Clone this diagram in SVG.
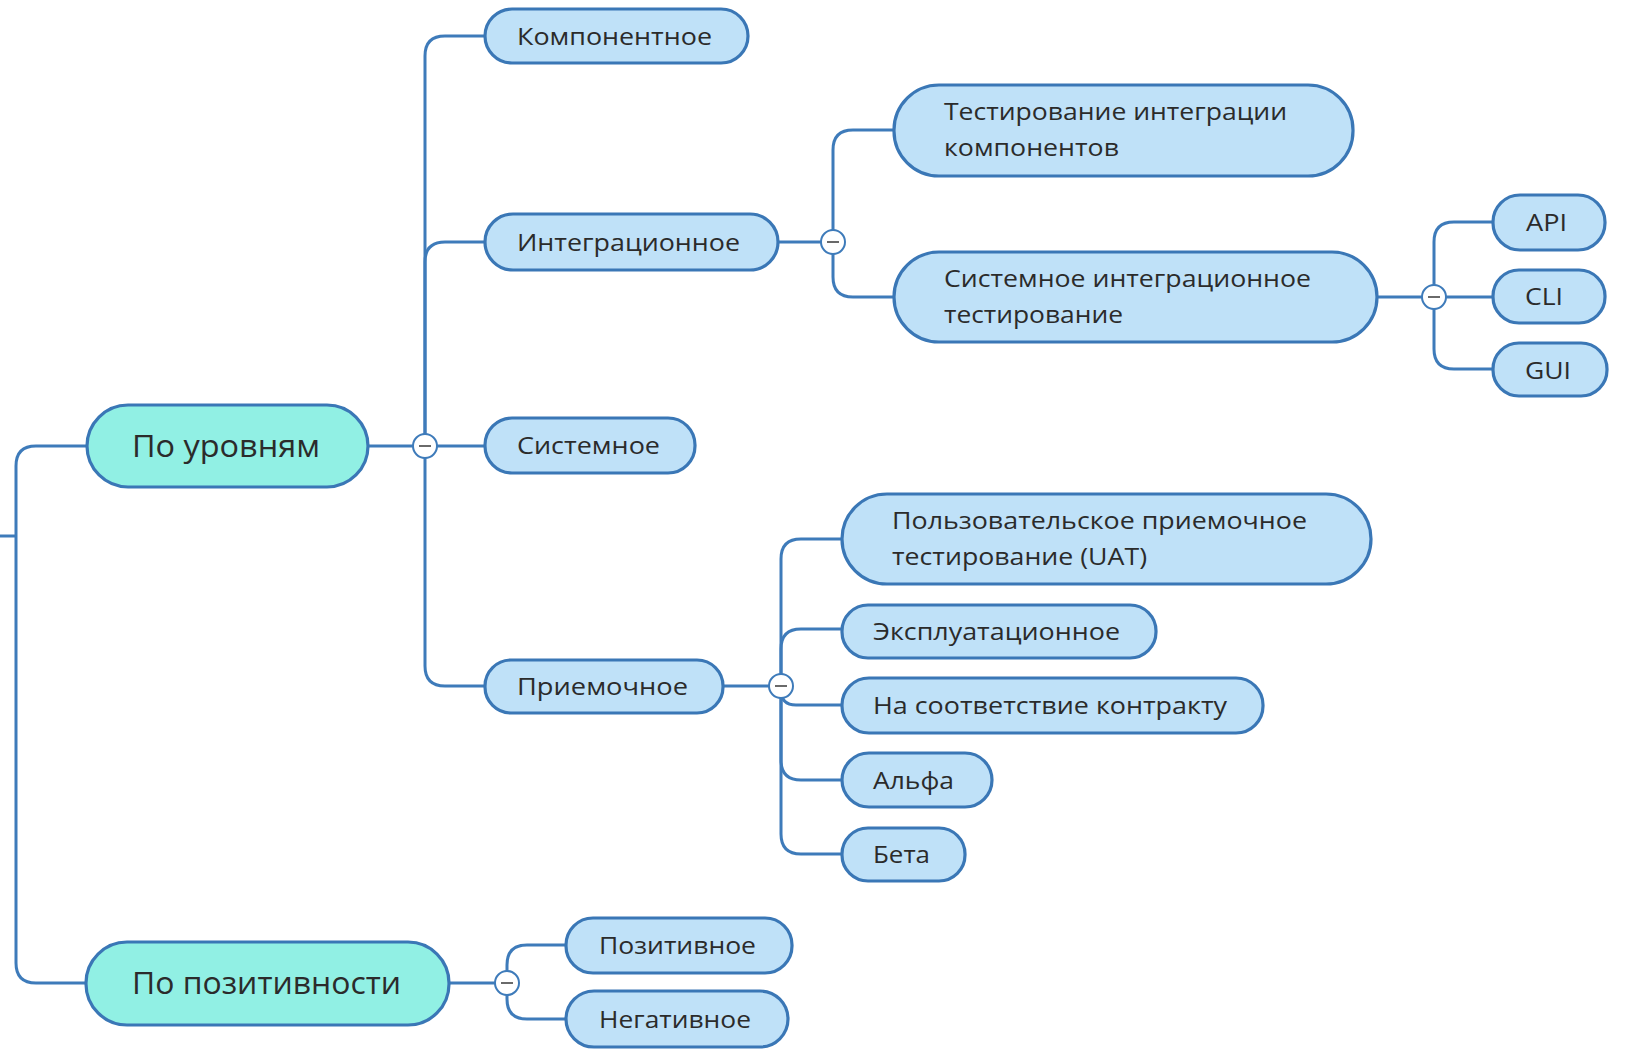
<svg xmlns="http://www.w3.org/2000/svg" width="1626" height="1052" viewBox="0 0 1626 1052">
<style>
.c{fill:none;stroke:#3e7bba;stroke-width:3}
.n rect{fill:#bfe1f8;stroke:#3a77b6;stroke-width:3.2}
.m rect{fill:#91f0e4;stroke:#3a77b6;stroke-width:3.2}
text{font-family:"Open Sans","Noto Sans",sans-serif;fill:#2b2b2b}
.n text{font-size:24px}
.m text{font-size:31px}
.k circle{fill:#fff;stroke:#3e7bba;stroke-width:2}
.k line{stroke:#444;stroke-width:1.6}
</style>
<rect width="1626" height="1052" fill="#fff"/>
<g id="connectors">
<path class="c" d="M0,536 H16"/>
<path class="c" d="M87,446 H36 Q16,446 16,466 V963 Q16,983 36,983 H86"/>
<path class="c" d="M368,446 H485"/>
<path class="c" d="M425,446 V56 Q425,36 445,36 H485"/>
<path class="c" d="M425,446 V262 Q425,242 445,242 H485"/>
<path class="c" d="M425,446 V666 Q425,686 445,686 H485"/>
<path class="c" d="M778,242 H821"/>
<path class="c" d="M833,242 V150 Q833,130 853,130 H894"/>
<path class="c" d="M833,242 V277 Q833,297 853,297 H894"/>
<path class="c" d="M1377,297 H1493"/>
<path class="c" d="M1434,297 V242 Q1434,222 1454,222 H1493"/>
<path class="c" d="M1434,297 V349 Q1434,369 1454,369 H1493"/>
<path class="c" d="M723,686 H769"/>
<path class="c" d="M781,686 V559 Q781,539 801,539 H842"/>
<path class="c" d="M781,686 V649 Q781,629 801,629 H842"/>
<path class="c" d="M781,686 V690 Q781,705 796,705 H842"/>
<path class="c" d="M781,686 V760 Q781,780 801,780 H842"/>
<path class="c" d="M781,686 V834 Q781,854 801,854 H842"/>
<path class="c" d="M449,983 H495"/>
<path class="c" d="M507,983 V965 Q507,945 527,945 H566"/>
<path class="c" d="M507,983 V999 Q507,1019 527,1019 H566"/>
</g>
<g id="toggles" class="k">
<circle cx="425" cy="446" r="12"/><line x1="419" y1="446" x2="431" y2="446"/>
<circle cx="833" cy="242" r="12"/><line x1="827" y1="242" x2="839" y2="242"/>
<circle cx="1434" cy="297" r="12"/><line x1="1428" y1="297" x2="1440" y2="297"/>
<circle cx="781" cy="686" r="12"/><line x1="775" y1="686" x2="787" y2="686"/>
<circle cx="507" cy="983" r="12"/><line x1="501" y1="983" x2="513" y2="983"/>
</g>
<g id="n-urovni" class="m"><rect x="87" y="405" width="281" height="82" rx="41"/><text x="132" y="457" textLength="188" lengthAdjust="spacingAndGlyphs">По уровням</text></g>
<g id="n-pozitiv" class="m"><rect x="86" y="942" width="363" height="83" rx="41"/><text x="132" y="994" textLength="269" lengthAdjust="spacingAndGlyphs">По позитивности</text></g>
<g id="n-komp" class="n"><rect x="485" y="9" width="263" height="54" rx="27"/><text x="517" y="45" textLength="195" lengthAdjust="spacingAndGlyphs">Компонентное</text></g>
<g id="n-integr" class="n"><rect x="485" y="214" width="293" height="56" rx="28"/><text x="517" y="251" textLength="223" lengthAdjust="spacingAndGlyphs">Интеграционное</text></g>
<g id="n-sist" class="n"><rect x="485" y="418" width="210" height="55" rx="27"/><text x="517" y="454" textLength="143" lengthAdjust="spacingAndGlyphs">Системное</text></g>
<g id="n-priem" class="n"><rect x="485" y="660" width="238" height="53" rx="26"/><text x="517" y="695" textLength="171" lengthAdjust="spacingAndGlyphs">Приемочное</text></g>
<g id="n-tik" class="n"><rect x="894" y="85" width="459" height="91" rx="45"/><text x="944" y="120" textLength="343" lengthAdjust="spacingAndGlyphs">Тестирование интеграции</text><text x="944" y="156" textLength="175" lengthAdjust="spacingAndGlyphs">компонентов</text></g>
<g id="n-sit" class="n"><rect x="894" y="252" width="483" height="90" rx="45"/><text x="944" y="287" textLength="367" lengthAdjust="spacingAndGlyphs">Системное интеграционное</text><text x="944" y="323" textLength="179" lengthAdjust="spacingAndGlyphs">тестирование</text></g>
<g id="n-api" class="n"><rect x="1493" y="195" width="112" height="55" rx="27"/><text x="1526" y="231" textLength="41" lengthAdjust="spacingAndGlyphs">API</text></g>
<g id="n-cli" class="n"><rect x="1493" y="270" width="112" height="53" rx="26"/><text x="1525" y="305" textLength="38" lengthAdjust="spacingAndGlyphs">CLI</text></g>
<g id="n-gui" class="n"><rect x="1493" y="343" width="114" height="53" rx="26"/><text x="1525" y="379" textLength="46" lengthAdjust="spacingAndGlyphs">GUI</text></g>
<g id="n-uat" class="n"><rect x="842" y="494" width="529" height="90" rx="45"/><text x="892" y="529" textLength="415" lengthAdjust="spacingAndGlyphs">Пользовательское приемочное</text><text x="892" y="565" textLength="255" lengthAdjust="spacingAndGlyphs">тестирование (UAT)</text></g>
<g id="n-expl" class="n"><rect x="842" y="605" width="314" height="53" rx="26"/><text x="873" y="640" textLength="247" lengthAdjust="spacingAndGlyphs">Эксплуатационное</text></g>
<g id="n-kontr" class="n"><rect x="842" y="678" width="421" height="55" rx="27"/><text x="873" y="714" textLength="354" lengthAdjust="spacingAndGlyphs">На соответствие контракту</text></g>
<g id="n-alfa" class="n"><rect x="842" y="753" width="150" height="54" rx="27"/><text x="873" y="789" textLength="81" lengthAdjust="spacingAndGlyphs">Альфа</text></g>
<g id="n-beta" class="n"><rect x="842" y="828" width="123" height="53" rx="26"/><text x="873" y="863" textLength="57" lengthAdjust="spacingAndGlyphs">Бета</text></g>
<g id="n-poz" class="n"><rect x="566" y="918" width="226" height="55" rx="27"/><text x="599" y="954" textLength="157" lengthAdjust="spacingAndGlyphs">Позитивное</text></g>
<g id="n-neg" class="n"><rect x="566" y="991" width="222" height="56" rx="28"/><text x="599" y="1028" textLength="152" lengthAdjust="spacingAndGlyphs">Негативное</text></g>
</svg>
